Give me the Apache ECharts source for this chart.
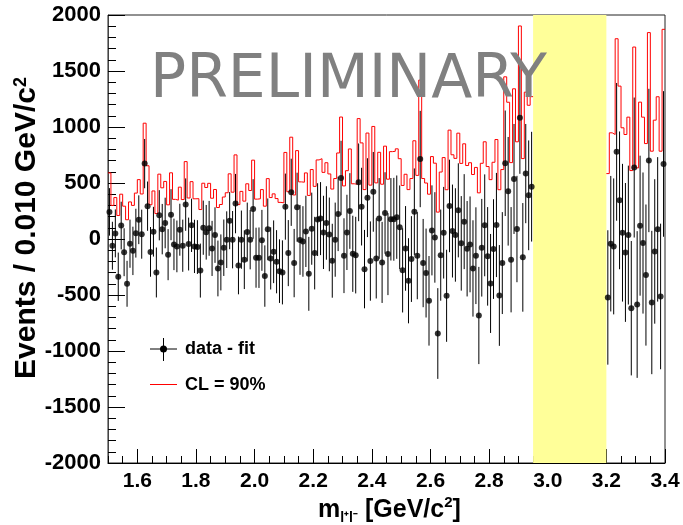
<!DOCTYPE html>
<html>
<head>
<meta charset="utf-8">
<script src="https://cdn.jsdelivr.net/npm/echarts@6/dist/echarts.min.js"></script>
<style>
  html, body { margin: 0; padding: 0; background: #fff; }
  #chart { width: 683px; height: 525px; }
</style>
</head>
<body>
<div id="chart"></div>
<script>
// Bin width in GeV/c^2 and the two mass windows (J/psi region removed)
const binWidth = 0.01;
const lowStart = 1.50;
const highStart = 3.20;

// data - fit, per bin, lower window 1.50 - 2.95
const lowValues = [
  242, -60, 50, -337, 120, -118, -400, -42, -106, 52,
  172, 43, 673, 293, -115, 65, -299, 212, 88, 143,
  -140, 217, -48, -66, 83, -60, 307, -45, 122, -66,
  -72, -282, 101, 60, 95, -84, 35, -263, -209, -78,
  -6, 164, -6, 316, -236, -6, -185, 62, -6, 268,
  -167, -167, -12, -331, 86, -173, -114, -203, -287, -298,
  289, -126, 417, -215, 284, -8, -22, 68, -311, 92,
  -126, 173, 182, 59, 143, 41, -194, -6, 224, 545,
  -149, 59, 250, -132, -144, 506, 289, -269, 369, -197,
  421, -173, 184, -209, 232, -135, 176, 176, 195, 104,
  -280, -84, -373, -179, 244, -149, 714, -215, -304, -552,
  77, 14, -844, -144, 56, -507, 295, 71, 36, 256,
  -39, 155, -87, -48, -263, -149, -683, -78, 122, -155,
  -397, -90, 125, -504, -215, 676, 426, -185, 536, 89,
  1082, -164, 584, 390, 467
];
const lowErrors = [
  212, 214, 214, 216, 213, 214, 205, 215, 216, 218,
  218, 219, 220, 220, 222, 222, 223, 224, 225, 226,
  228, 228, 230, 231, 232, 233, 234, 236, 238, 238,
  240, 241, 242, 244, 245, 246, 248, 249, 250, 252,
  253, 255, 256, 265, 258, 260, 262, 263, 265, 266,
  268, 270, 272, 274, 276, 278, 280, 282, 284, 286,
  295, 295, 300, 305, 308, 312, 315, 318, 330, 322,
  324, 325, 326, 327, 328, 329, 330, 331, 332, 332,
  334, 336, 338, 340, 342, 347, 347, 350, 352, 354,
  356, 358, 360, 362, 364, 366, 368, 370, 372, 374,
  376, 378, 380, 383, 386, 389, 430, 394, 397, 400,
  402, 404, 405, 407, 409, 411, 413, 415, 417, 420,
  422, 424, 426, 428, 430, 432, 434, 436, 455, 440,
  442, 445, 465, 450, 455, 471, 485, 470, 491, 475,
  500, 485, 443, 490, 490
];
// 90% CL upper limit per bin, lower window
const lowLimits = [
  590, 300, 370, 210, 400, 293, 172, 331, 300, 410,
  530, 402, 1034, 654, 306, 429, 227, 579, 457, 514,
  305, 591, 354, 347, 463, 352, 691, 366, 512, 359,
  360, 263, 498, 460, 497, 364, 442, 281, 308, 375,
  413, 582, 418, 751, 307, 425, 338, 493, 433, 704,
  356, 359, 441, 293, 539, 370, 403, 361, 327, 323,
  773, 422, 909, 393, 789, 510, 507, 590, 389, 620,
  470, 706, 717, 595, 681, 581, 446, 540, 768, 1089,
  474, 610, 804, 493, 489, 1075, 858, 441, 946, 481,
  1005, 501, 774, 489, 829, 534, 780, 783, 805, 717,
  478, 578, 441, 540, 877, 568, 1419, 540, 500, 400,
  736, 677, 240, 598, 727, 440, 972, 752, 720, 945,
  675, 850, 656, 681, 576, 639, 412, 676, 868, 647,
  530, 685, 888, 440, 620, 1448, 1221, 682, 1341, 868,
  1902, 718, 1311, 1194, 1271
];

// upper window 3.20 - 3.40
const highValues = [-522, -42, -66, 778, 345, 56, -120, 35, -618, 638,
                    -585, 119, -36, -322, 701, -567, -111, 86, -513, 670];
const highErrors = [600, 605, 607, 615, 615, 615, 620, 620, 600, 625,
                    655, 625, 630, 630, 640, 640, 645, 645, 650, 650];
const highLimits = [584, 948, 933, 1788, 1365, 993, 933, 1088, 611, 1714,
                    635, 1222, 1088, 852, 1843, 784, 1061, 1270, 784, 1872];

// excluded charmonium region
const vetoRange = [2.95, 3.20];

// axis ticks
const xMajorTicks = [1.6, 1.8, 2.0, 2.2, 2.4, 2.6, 2.8, 3.0, 3.2, 3.4];

const round = v => +v.toFixed(4);

function points(start, values, errors) {
  return values.map((v, i) => [round(start + (i + 0.5) * binWidth), v, errors[i]]);
}
function steps(start, limits) {
  const out = [];
  limits.forEach((u, i) => {
    out.push([round(start + i * binWidth), u]);
    out.push([round(start + (i + 1) * binWidth), u]);
  });
  return out;
}

const pts = points(lowStart, lowValues, lowErrors).concat(points(highStart, highValues, highErrors));
const limitLine = steps(lowStart, lowLimits).concat([[null, null]], steps(highStart, highLimits));

const font = 'Liberation Sans, Arial, Helvetica, sans-serif';

const chart = echarts.init(document.getElementById('chart'), null, { renderer: 'canvas' });

chart.setOption({
  animation: false,
  backgroundColor: '#ffffff',
  grid: {
    left: 108, top: 15, width: 557, height: 448,
    show: true, borderColor: '#222', borderWidth: 1, backgroundColor: 'transparent'
  },
  xAxis: [
    {
      type: 'value', min: 1.5, max: 3.4, interval: 0.05,
      axisLine: { show: true, onZero: false, lineStyle: { color: '#000', width: 1 } },
      axisTick: { show: true, inside: true, length: 7, lineStyle: { color: '#000' } },
      axisLabel: {
        customValues: xMajorTicks,
        formatter: v => v.toFixed(1),
        margin: 8, color: '#000', fontFamily: font, fontWeight: 'bold', fontSize: 21
      },
      splitLine: { show: false }
    },
    {
      type: 'value', min: 1.5, max: 3.4, position: 'bottom',
      axisLine: { show: false, onZero: false },
      axisTick: { show: true, inside: true, length: 14, customValues: xMajorTicks, lineStyle: { color: '#000' } },
      axisLabel: { show: false },
      splitLine: { show: false }
    }
  ],
  yAxis: {
    type: 'value', min: -2000, max: 2000, interval: 500,
    axisLine: { show: true, onZero: false, lineStyle: { color: '#444', width: 1 } },
    axisTick: { show: true, inside: true, length: 17, lineStyle: { color: '#000' } },
    minorTick: { show: true, splitNumber: 5, length: 8, lineStyle: { color: '#000' } },
    axisLabel: {
      margin: 7, color: '#000', fontFamily: font, fontWeight: 'bold', fontSize: 22,
      formatter: v => String(v)
    },
    splitLine: { show: false }
  },
  series: [
    {
      // vetoed J/psi window
      type: 'line', data: [], silent: true,
      markArea: {
        silent: true,
        itemStyle: { color: '#ffff99' },
        data: [[{ xAxis: vetoRange[0] }, { xAxis: vetoRange[1] }]]
      },
      z: 1
    },
    {
      name: 'CL = 90%',
      type: 'line', data: limitLine, showSymbol: false, connectNulls: false,
      lineStyle: { color: '#ff0000', width: 1 },
      z: 3
    },
    {
      name: 'errors',
      type: 'custom', data: pts,
      encode: { x: 0, y: 1 },
      renderItem: (params, api) => {
        const x = api.value(0), v = api.value(1), e = api.value(2);
        const a = api.coord([x, v - e]);
        const b = api.coord([x, v + e]);
        return {
          type: 'line',
          shape: { x1: a[0], y1: a[1], x2: b[0], y2: b[1] },
          style: { stroke: '#000', lineWidth: 1 }
        };
      },
      z: 4
    },
    {
      name: 'data - fit',
      type: 'scatter', data: pts.map(p => [p[0], p[1]]),
      symbol: 'circle', symbolSize: 6,
      itemStyle: { color: '#000' },
      z: 5
    }
  ],
  graphic: [
    {
      type: 'text', left: 150, top: 51, z: 10, silent: true,
      style: { text: 'PRELIMINARY', fill: '#808080', font: 'normal 60px "DejaVu Sans", sans-serif' }
    },
    // legend: data - fit
    { type: 'line', shape: { x1: 150, y1: 349, x2: 177, y2: 349 }, style: { stroke: '#000', lineWidth: 1 } },
    { type: 'line', shape: { x1: 163.5, y1: 338, x2: 163.5, y2: 361 }, style: { stroke: '#000', lineWidth: 1 } },
    { type: 'circle', shape: { cx: 163.5, cy: 349, r: 3.5 }, style: { fill: '#000' } },
    { type: 'text', x: 185, y: 349, style: { text: 'data - fit', fill: '#000', font: 'bold 18px ' + font, verticalAlign: 'middle' } },
    // legend: CL
    { type: 'line', shape: { x1: 150, y1: 384.5, x2: 177, y2: 384.5 }, style: { stroke: '#ff0000', lineWidth: 1 } },
    { type: 'text', x: 185, y: 385, style: { text: 'CL = 90%', fill: '#000', font: 'bold 18px ' + font, verticalAlign: 'middle' } },
    // y title
    {
      type: 'text', x: 27, y: 228, rotation: Math.PI / 2,
      style: {
        text: 'Events / 0.010 GeV/c{s|2}',
        fill: '#000', font: 'bold 30px ' + font, align: 'center', verticalAlign: 'middle',
        rich: { s: { fontSize: 18, fontWeight: 'bold', fontFamily: font, verticalAlign: 'top', lineHeight: 30 } }
      }
    },
    // x title
    {
      type: 'text', x: 318, y: 510,
      style: {
        text: 'm{b|l⁺l⁻} [GeV/c{s|2}]',
        fill: '#000', font: 'bold 25px ' + font, verticalAlign: 'middle',
        rich: {
          b: { fontSize: 14, fontWeight: 'bold', fontFamily: font, verticalAlign: 'bottom', lineHeight: 30 },
          s: { fontSize: 15, fontWeight: 'bold', fontFamily: font, verticalAlign: 'top', lineHeight: 30 }
        }
      }
    }
  ]
});
</script>
</body>
</html>
